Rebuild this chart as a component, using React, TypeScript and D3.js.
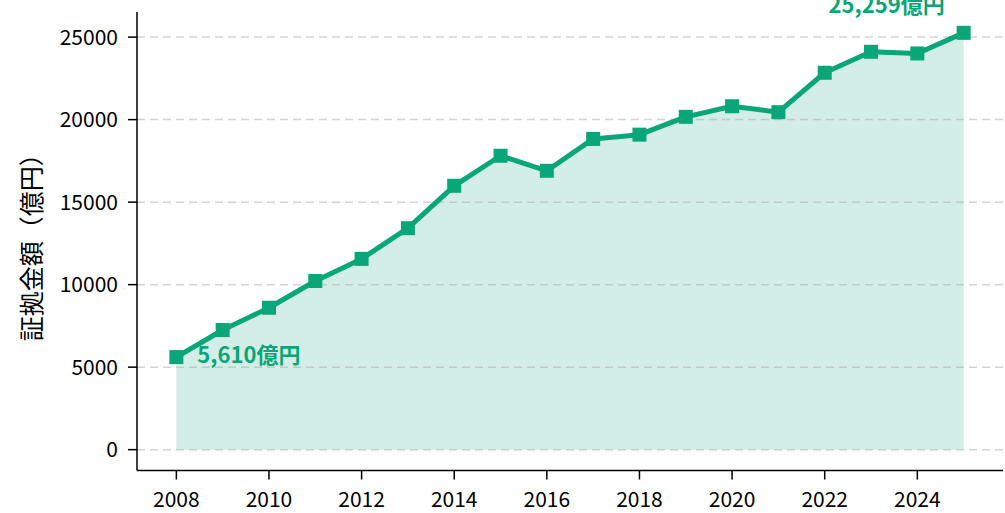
import React from "react";
import * as d3 from "d3";

const years = [2008, 2009, 2010, 2011, 2012, 2013, 2014, 2015, 2016, 2017, 2018, 2019, 2020, 2021, 2022, 2023, 2024, 2025];
const values = [5610, 7250, 8600, 10220, 11560, 13420, 15990, 17810, 16900, 18830, 19090, 20170, 20810, 20450, 22840, 24110, 24010, 25259];
const yTicks = [0, 5000, 10000, 15000, 20000, 25000];
const xTicks = [2008, 2010, 2012, 2014, 2016, 2018, 2020, 2022, 2024];
const yLabel = "証拠金額（億円）";
const firstLabel = "5,610億円";
const lastLabel = "25,259億円";

const W = 1005;
const H = 513;
const left = 137;
const right = 1003;
const top = 12;
const bottom = 470.5;
const green = "#08a678";
const fillColor = "#d3eee6";
const font = "'Noto Sans CJK JP', 'Noto Sans', sans-serif";

export default function App() {
  const x = d3.scaleLinear().domain([2007.15, 2025.85]).range([left, right]);
  const y = d3.scaleLinear().domain([-1263, 26522]).range([bottom, top]);
  const data = years.map((yr, i) => ({ yr, v: values[i] }));
  const line = d3.line<{ yr: number; v: number }>().x((d) => x(d.yr)).y((d) => y(d.v));
  const area = d3
    .area<{ yr: number; v: number }>()
    .x((d) => x(d.yr))
    .y0(() => y(0))
    .y1((d) => y(d.v));
  const ms = 14;
  const first = data[0];
  const last = data[data.length - 1];
  return (
    <div style={{ position: "absolute", left: 0, top: 0 }}>
      <svg width={W} height={H} style={{ display: "block", fontFamily: font }}>
        <path d={area(data) || ""} fill={fillColor} />
        {yTicks.map((t) => (
          <line key={"g" + t} x1={left} x2={right} y1={y(t)} y2={y(t)} stroke="#aaaaaa" strokeOpacity={0.5} strokeWidth={1.5} strokeDasharray="8,5" />
        ))}
        <path d={line(data) || ""} fill="none" stroke={green} strokeWidth={5} strokeLinejoin="round" />
        {data.map((d) => (
          <rect key={d.yr} x={x(d.yr) - ms / 2} y={y(d.v) - ms / 2} width={ms} height={ms} fill={green} />
        ))}
        <text x={x(first.yr) + 21} y={y(first.v) + 6} fill={green} fontSize={22} fontWeight="bold">{firstLabel}</text>
        <text x={x(last.yr) - 77} y={y(last.v) - 20} fill={green} fontSize={22} fontWeight="bold" textAnchor="middle">{lastLabel}</text>
        <line x1={left} x2={left} y1={top} y2={bottom} stroke="#000" strokeWidth={1.5} />
        <line x1={left} x2={right} y1={bottom} y2={bottom} stroke="#000" strokeWidth={1.5} />
        {yTicks.map((t) => (
          <g key={"y" + t}>
            <line x1={left - 9} x2={left} y1={y(t)} y2={y(t)} stroke="#000" strokeWidth={1.5} />
            <text x={left - 19} y={y(t)} dy="0.36em" textAnchor="end" fontSize={21} fill="#000">{t}</text>
          </g>
        ))}
        {xTicks.map((t) => (
          <g key={"x" + t}>
            <line x1={x(t)} x2={x(t)} y1={bottom} y2={bottom + 9} stroke="#000" strokeWidth={1.5} />
            <text x={x(t)} y={bottom + 36} textAnchor="middle" fontSize={21} fill="#000">{t}</text>
          </g>
        ))}
        <text transform={`translate(30, ${(top + bottom) / 2}) rotate(-90)`} textAnchor="middle" dominantBaseline="central" fontSize={25} fill="#000">{yLabel}</text>
      </svg>
    </div>
  );
}
